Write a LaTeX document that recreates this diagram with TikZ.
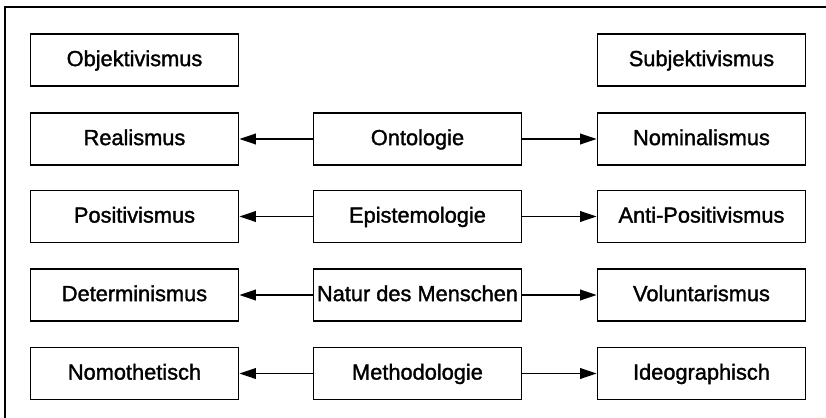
\documentclass[tikz,border=0pt]{standalone}
\usepackage{fontspec}
\setmainfont{Liberation Sans}
\newfontfamily\boxfont[BoldFont={Liberation Sans},BoldFeatures={FakeBold=1.5}]{Liberation Sans}
\usetikzlibrary{arrows.meta}
\begin{document}
\begin{tikzpicture}[x=0.03cm,y=-0.03cm,line width=1.5pt]

        \useasboundingbox (0,0) rectangle (826,418);
        \draw (5,440) -- (5,7) -- (840,7);

        \begin{scope}[every node/.style={draw,rectangle,inner sep=0pt,
            minimum width=6.24cm,minimum height=1.56cm,
            text height=13.4pt,text depth=3pt,
            font=\boxfont\bfseries\fontsize{18.6}{20}\selectfont}]
          \node (obj)  at (134.5,60)    {Objektivismus};
          \node (subj) at (701.5,60)    {Subjektivismus};
          \node (real) at (134.5,139)   {Realismus};
          \node (ont)  at (417.5,139)   {Ontologie};
          \node (nom)  at (701.5,139)   {Nominalismus};
          \node (pos)  at (134.5,216.5) {Positivismus};
          \node (epi)  at (417.5,216.5) {Epistemologie};
          \node (apos) at (701.5,216.5) {Anti-Positivismus};
          \node (det)  at (134.5,295)   {Determinismus};
          \node (nat)  at (417.5,295)   {Natur des Menschen};
          \node (vol)  at (701.5,295)   {Voluntarismus};
          \node (nomo) at (134.5,373.5) {Nomothetisch};
          \node (met)  at (417.5,373.5) {Methodologie};
          \node (ideo) at (701.5,373.5) {Ideographisch};
        \end{scope}

        \begin{scope}[every edge/.style={draw,line width=1.5pt,
            -{Triangle[length=14pt,width=9pt]}}]
          \path (ont) edge (real);
          \path (ont) edge (nom);
          \path (epi) edge (pos);
          \path (epi) edge (apos);
          \path (nat) edge (det);
          \path (nat) edge (vol);
          \path (met) edge (nomo);
          \path (met) edge (ideo);
        \end{scope}

      \end{tikzpicture}
\end{document}
